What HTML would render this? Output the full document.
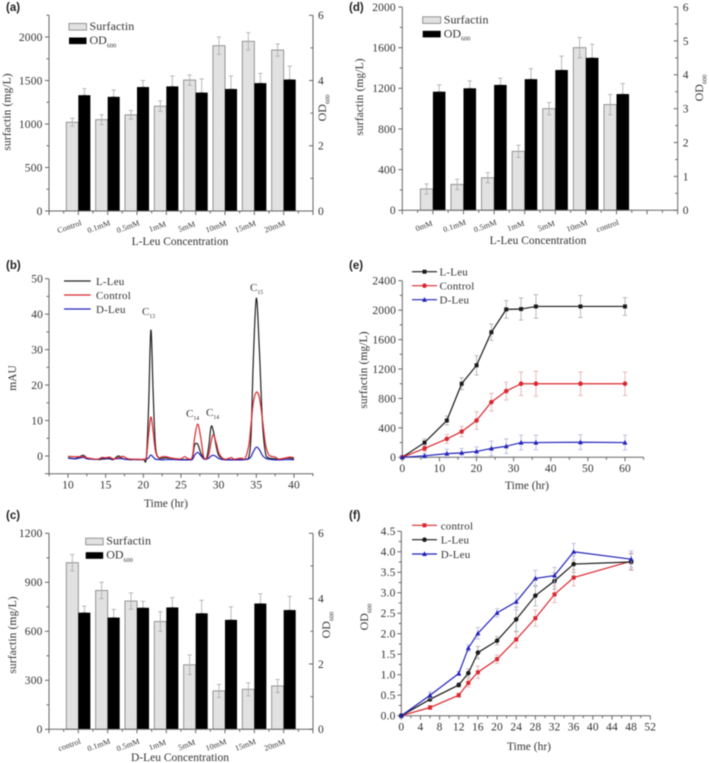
<!DOCTYPE html>
<html lang="en">
<head>
<meta charset="utf-8">
<title>Surfactin and OD600 panels</title>
<style>
html,body{margin:0;padding:0;background:#fff;width:709px;height:763px;overflow:hidden}
svg{display:block;filter:blur(.5px)}
text{font-family:"Liberation Serif",serif;fill:#333}
.panel-label{font-family:"Liberation Sans",sans-serif;font-weight:bold;font-size:11.5px;fill:#222}
</style>
</head>
<body>
<svg id="fig" xmlns="http://www.w3.org/2000/svg" width="709" height="763" viewBox="0 0 709 763">
  <defs>
    <pattern id="hatch" patternUnits="userSpaceOnUse" width="2.5" height="2.5">
      <rect width="2.5" height="2.5" fill="#eeeeee"/>
      <path d="M0 2.5L2.5 0" stroke="#cccccc" stroke-width=".7"/>
    </pattern>
  </defs>
  <rect width="709" height="763" fill="#fff"/>
</svg>
<script>
// Panel (a)
const aCategories = ['Control','0.1mM','0.5mM','1mM','5mM','10mM','15mM','20mM'];
const aSurfactin = [1020,1050,1105,1205,1505,1900,1950,1850];
const aSurfactinErr = [46,57,50,60,60,100,100,70];
const aOD = [3.55,3.5,3.8,3.82,3.63,3.74,3.92,4.03];
const aODErr = [0.2,0.21,0.2,0.32,0.42,0.4,0.3,0.41];
const aLeftTicks = [0,500,1000,1500,2000];
const aRightTicks = [0,2,4,6];

// Panel (d)
const dCategories = ['0mM','0.1mM','0.5mM','1mM','5mM','10mM','control'];
const dSurfactin = [210,255,320,580,1000,1600,1040];
const dSurfactinErr = [50,50,50,60,60,100,100];
const dOD = [3.5,3.6,3.7,3.87,4.14,4.5,3.43];
const dODErr = [0.2,0.22,0.2,0.31,0.41,0.4,0.31];
const dLeftTicks = [0,400,800,1200,1600,2000];
const dRightTicks = [0,1,2,3,4,5,6];

// Panel (c)
const cCategories = ['control','0.1mM','0.5mM','1mM','5mM','10mM','15mM','20mM'];
const cSurfactin = [1020,850,785,660,395,235,245,265];
const cSurfactinErr = [50,50,50,60,60,40,40,40];
const cOD = [3.57,3.42,3.72,3.73,3.55,3.35,3.85,3.65];
const cODErr = [0.2,0.25,0.2,0.3,0.4,0.4,0.3,0.42];
const cLeftTicks = [0,300,600,900,1200];
const cRightTicks = [0,2,4,6];

// Panel (b)
const bTimes = [10,11,12,12.5,13,14,14.5,15,15.5,16,16.7,17.3,18,19,20,20.4,20.7,21,21.3,21.6,22,22.5,23,24,25,25.5,26,26.5,26.8,27.2,27.6,28,28.4,28.7,29,29.3,29.7,30,30.5,31,31.7,32,33,33.5,34,34.3,34.6,35,35.4,35.8,36.2,36.6,37,37.5,38,39,39.5,40];
const bLLeu = [-.5,-.7,.2,-.6,-.8,-1,-.9,-.8,-.8,-1,0,-.8,-1,-1,-1,-.5,14,35.5,18,3,-.4,-.6,-.5,-.7,-1,-1,-1,-.6,3,3.4,1,-.5,-.6,3,8.3,7,2.5,.2,-.7,-1,-1,-1,-1,-.9,-.3,6,27,44.5,30,10,1,-.5,-.7,-.8,-.9,-.6,-.6,-.8];
const bControl = [-.1,-.2,-.2,-.5,-.7,-.9,-.4,-.5,-.3,-.8,-.5,-.1,-.8,-.9,-.9,-.3,6,11,7,1.5,-.5,-.2,-.2,-.7,-.8,-.2,-.8,-.3,5,9,5.5,-.2,-.7,.5,4,6,3.5,1,-.6,-.9,-.4,-.9,-.6,-.7,3,9,15,18,16.5,10.5,3.5,.5,-.1,-.3,-.9,-.5,-.3,-.5];
const bDLeu = [-.6,-.8,-.4,-.8,-.9,-.9,-.6,-.7,-.6,-.9,-.7,-.8,-1,-1,-1,-.9,-.5,.3,-.3,-.9,-1,-1.1,-1,-1,-1.1,-1.1,-1.1,-1,.2,1,.2,-.8,-.9,-.6,0,.2,-.2,-.7,-1,-1.1,-1.1,-1.1,-1.1,-1,-.8,-.2,1.2,2.5,1.8,.2,-.6,-.9,-1,-1.1,-1.1,-1,-1,-1.1];
const bXTicks = [10,15,20,25,30,35,40];
const bYTicks = [-5,0,10,20,30,40,50];
const bYLabels = [0,10,20,30,40,50];

// Panel (e)
const eTimes = [0,6,12,16,20,24,28,32,36,48,60];
const eLLeu = [0,200,500,1000,1250,1700,2010,2015,2050,2050,2050];
const eLLeuErr = [0,50,60,80,130,110,120,150,160,150,120];
const eControl = [0,120,250,350,500,750,900,1000,1000,1000,1000];
const eControlErr = [0,40,60,70,120,120,120,160,170,160,160];
const eDLeu = [0,20,50,60,80,120,150,200,200,205,200];
const eDLeuErr = [0,30,60,60,60,100,100,100,100,100,100];
const eXTicks = [0,10,20,30,40,50,60];
const eYTicks = [0,400,800,1200,1600,2000,2400];

// Panel (f)
const fTimes = [0,6,12,14,16,20,24,28,32,36,48];
const fControl = [0,.2,.5,.8,1.06,1.38,1.86,2.38,2.96,3.37,3.77];
const fControlErr = [0,.05,.05,.1,.15,.1,.2,.2,.2,.2,.2];
const fLLeu = [0,.4,.75,1.04,1.54,1.83,2.35,2.93,3.29,3.7,3.75];
const fLLeuErr = [0,.05,.05,.1,.15,.1,.3,.25,.2,.2,.2];
const fDLeu = [0,.5,1.03,1.65,2.01,2.51,2.78,3.35,3.42,4,3.82];
const fDLeuErr = [0,.08,.05,.08,.14,.1,.2,.2,.2,.2,.2];
const fXTicks = [0,4,8,12,16,20,24,28,32,36,40,44,48,52];
const fYTicks = [0,.5,1,1.5,2,2.5,3,3.5,4,4.5];

const NS = 'http://www.w3.org/2000/svg';
const fig = document.getElementById('fig');
const AXIS = '#666';
const RED = '#d9282f';
const BLUE = '#2222bb';
const BLACK = '#1a1a1a';

function mk(parent, tag, name, attrs) {
  const el = document.createElementNS(NS, tag);
  
  
  for (const k in attrs) el.setAttribute(k, attrs[k]);
  parent.appendChild(el);
  return el;
}
function linear(d0, d1, r0, r1) {
  return v => r0 + (v - d0) * (r1 - r0) / (d1 - d0);
}
function line(p, name, x1, y1, x2, y2, stroke, w) {
  return mk(p, 'line', name, {x1, y1, x2, y2, stroke: stroke || AXIS, 'stroke-width': w || 1});
}
function label(p, name, x, y, str, size, anchor, extra) {
  const t = mk(p, 'text', name, Object.assign({x, y, 'font-size': size, 'text-anchor': anchor || 'start'}, extra || {}));
  t.textContent = str;
  return t;
}
function subLabel(p, name, x, y, base, sub, size, anchor, transform) {
  const attrs = {x, y, 'font-size': size, 'text-anchor': anchor || 'start'};
  if (transform) attrs.transform = transform;
  const t = mk(p, 'text', name, attrs);
  t.appendChild(document.createTextNode(base));
  const s = document.createElementNS(NS, 'tspan');
  s.setAttribute('font-size', size * 0.52);
  s.setAttribute('dy', size * 0.28);
  s.textContent = sub;
  t.appendChild(s);
  return t;
}
function errorBar(p, name, x, yHi, yLo, color) {
  const g = mk(p, 'g', name, {stroke: color, 'stroke-width': .8, fill: 'none'});
  line(g, 'error-stem', x, yHi, x, yLo, color, .8);
  line(g, 'error-cap-top', x - 2.2, yHi, x + 2.2, yHi, color, .8);
  line(g, 'error-cap-bottom', x - 2.2, yLo, x + 2.2, yLo, color, .8);
}
function yAxis(p, name, x, top, bottom, scale, majors, minorStep, domainMax, labelVals, labelX, anchor, fmt) {
  const g = mk(p, 'g', name, {});
  line(g, 'axis-line', x, top, x, bottom);
  const lo = majors[0];
  for (let v = lo; v <= domainMax + 1e-9; v += minorStep) {
    const isMajor = majors.some(m => Math.abs(m - v) < 1e-6);
    line(g, isMajor ? 'major-tick' : 'minor-tick', x - (isMajor ? 4 : 2.5), scale(v), x, scale(v));
  }
  labelVals.forEach(m => {
    label(g, 'tick-label', labelX, scale(m) + 3.9, fmt ? fmt(m) : String(m), 11.5, anchor, {'letter-spacing': '.15'});
  });
  return g;
}

function barPanel(cfg) {
  const g = mk(fig, 'g', cfg.name, {});
  const x = linear(0, 9, cfg.left, cfg.right);
  const yL = linear(0, cfg.leftRef, cfg.bottom, cfg.leftRefY);
  const yR = linear(0, 6, cfg.bottom, cfg.rightTopY);
  const n = cfg.categories.length;
  const halfW = (x(1) - x(0)) * 0.41;
  for (let i = 0; i < n; i++) {
    const c = x(i + 1);
    const y1 = yL(cfg.surfactin[i]);
    mk(g, 'rect', 'surfactin-bar-' + cfg.categories[i], {x: c - halfW, y: y1, width: halfW, height: cfg.bottom - y1, fill: 'url(#hatch)', stroke: '#8a8a8a', 'stroke-width': .9});
    errorBar(g, 'surfactin-error', c - halfW / 2, yL(cfg.surfactin[i] + cfg.surfactinErr[i]), yL(cfg.surfactin[i] - cfg.surfactinErr[i]), '#aaa');
  }
  for (let i = 0; i < n; i++) {
    const c = x(i + 1);
    const y2 = yR(cfg.od[i]);
    errorBar(g, 'od-error', c + halfW / 2, yR(cfg.od[i] + cfg.odErr[i]), y2, '#aaa');
    mk(g, 'rect', 'od-bar-' + cfg.categories[i], {x: c, y: y2, width: halfW, height: cfg.bottom - y2, fill: '#000'});
  }
  yAxis(g, 'left-y-axis', cfg.left, cfg.top, cfg.bottom, yL, cfg.leftTicks, cfg.leftMinor, cfg.leftMax, cfg.leftTicks, cfg.left - 6.5, 'end');
  yAxis(g, 'right-y-axis', cfg.right, cfg.rightTopY, cfg.bottom, yR, cfg.rightTicks, cfg.rightMinor, 6, cfg.rightTicks, cfg.right + 5, 'start');
  const xg = mk(g, 'g', 'x-axis', {});
  line(xg, 'axis-line', cfg.left, cfg.bottom, cfg.right, cfg.bottom);
  for (let v = 0; v <= 9; v += .5) {
    const maj = Number.isInteger(v);
    line(xg, maj ? 'major-tick' : 'minor-tick', x(v), cfg.bottom, x(v), cfg.bottom + (maj ? 4 : 2.5));
  }
  cfg.categories.forEach((c, i) => {
    const cx = x(i + 1) - 8, cy = cfg.bottom + 18;
    label(xg, 'category-label', cx, cy, c, 8, 'middle', {transform: 'rotate(-20 ' + cx + ' ' + cy + ')', 'letter-spacing': '.1'});
  });
  label(g, 'x-axis-title', cfg.xTitleX, cfg.xTitleY, cfg.xTitle, 11.5, 'middle');
  const yt = 'rotate(-90 ' + cfg.yTitleX + ' ' + cfg.yTitleY + ')';
  label(g, 'y-axis-title', cfg.yTitleX, cfg.yTitleY, 'surfactin (mg/L)', 11.5, 'middle', {transform: yt, 'letter-spacing': '.1'});
  const rt = 'rotate(-90 ' + cfg.rTitleX + ' ' + cfg.rTitleY + ')';
  subLabel(g, 'right-y-axis-title', cfg.rTitleX, cfg.rTitleY, 'OD', '600', 12, 'middle', rt);
  const lg = mk(g, 'g', 'legend', {});
  mk(lg, 'rect', 'legend-swatch-surfactin', {x: cfg.legX, y: cfg.legY, width: cfg.legW, height: 6.6, fill: 'url(#hatch)', stroke: '#8a8a8a', 'stroke-width': .9});
  label(lg, 'legend-label-surfactin', cfg.legX + cfg.legW + 3, cfg.legY + 6.5, 'Surfactin', 12, 'start', {'letter-spacing': '.1'});
  mk(lg, 'rect', 'legend-swatch-od', {x: cfg.legX, y: cfg.legY + 14, width: cfg.legW, height: 6.6, fill: '#000'});
  subLabel(lg, 'legend-label-od', cfg.legX + cfg.legW + 3, cfg.legY + 20.5, 'OD', '600', 12);
}

barPanel({name: 'panel-a', left: 49, right: 313, top: 15, bottom: 211, leftRef: 2000, leftRefY: 37, rightTopY: 15.3,
  categories: aCategories, surfactin: aSurfactin, surfactinErr: aSurfactinErr, od: aOD, odErr: aODErr,
  leftTicks: aLeftTicks, leftMinor: 250, leftMax: 2250, rightTicks: aRightTicks, rightMinor: 1,
  xTitle: 'L-Leu Concentration', xTitleX: 180, xTitleY: 245, yTitleX: 10.5, yTitleY: 112, rTitleX: 326, rTitleY: 108,
  legX: 69, legY: 23.5, legW: 17.5});
barPanel({name: 'panel-d', left: 402.3, right: 677.7, top: 7, bottom: 210.3, leftRef: 2000, leftRefY: 7, rightTopY: 7,
  categories: dCategories, surfactin: dSurfactin, surfactinErr: dSurfactinErr, od: dOD, odErr: dODErr,
  leftTicks: dLeftTicks, leftMinor: 200, leftMax: 2000, rightTicks: dRightTicks, rightMinor: .5,
  xTitle: 'L-Leu Concentration', xTitleX: 538, xTitleY: 244, yTitleX: 363, yTitleY: 97, rTitleX: 703, rTitleY: 88,
  legX: 422.7, legY: 16.8, legW: 18});
barPanel({name: 'panel-c', left: 49, right: 313, top: 533.3, bottom: 729.3, leftRef: 1200, leftRefY: 533.3, rightTopY: 533.3,
  categories: cCategories, surfactin: cSurfactin, surfactinErr: cSurfactinErr, od: cOD, odErr: cODErr,
  leftTicks: cLeftTicks, leftMinor: 150, leftMax: 1200, rightTicks: cRightTicks, rightMinor: 1,
  xTitle: 'D-Leu Concentration', xTitleX: 180, xTitleY: 761, yTitleX: 16, yTitleY: 635, rTitleX: 330, rTitleY: 625,
  legX: 85.7, legY: 538.2, legW: 17.5});

function xAxis(p, left, right, y0, scale, majors, minorStep, maxV, minV, baseOff) {
  const g = mk(p, 'g', 'x-axis', {});
  line(g, 'axis-line', left, y0, right, y0);
  for (let v = minV; v <= maxV + 1e-9; v += minorStep) {
    const maj = majors.some(m => Math.abs(m - v) < 1e-6);
    line(g, maj ? 'major-tick' : 'minor-tick', scale(v), y0, scale(v), y0 + (maj ? 4 : 2.5));
  }
  majors.forEach(m => label(g, 'tick-label', scale(m), y0 + baseOff, String(m), 11.5, 'middle', {'letter-spacing': '.15'}));
}
function smoothPath(pts) {
  let d = 'M' + pts[0][0].toFixed(2) + ' ' + pts[0][1].toFixed(2);
  for (let i = 0; i < pts.length - 1; i++) {
    const p0 = pts[Math.max(0, i - 1)], p1 = pts[i], p2 = pts[i + 1], p3 = pts[Math.min(pts.length - 1, i + 2)];
    const c1x = p1[0] + (p2[0] - p0[0]) / 6, c1y = p1[1] + (p2[1] - p0[1]) / 6;
    const c2x = p2[0] - (p3[0] - p1[0]) / 6, c2y = p2[1] - (p3[1] - p1[1]) / 6;
    d += 'C' + c1x.toFixed(2) + ' ' + c1y.toFixed(2) + ' ' + c2x.toFixed(2) + ' ' + c2y.toFixed(2) + ' ' + p2[0].toFixed(2) + ' ' + p2[1].toFixed(2);
  }
  return d;
}

// Panel (b)
(function () {
  const g = mk(fig, 'g', 'panel-b', {});
  const x = linear(10, 40, 68, 294);
  const y = linear(0, 50, 456, 278.7);
  yAxis(g, 'y-axis', 49, 278.7, y(-5), y, bYTicks, 5, 50, bYLabels, 43, 'end');
  xAxis(g, 49, 313.3, y(-5), x, bXTicks, 2.5, 42.5, 7.5, 15);
  [['l-leu', bLLeu, '#222'], ['d-leu', bDLeu, BLUE], ['control', bControl, RED]].forEach(s => {
    const pts = bTimes.map((t, i) => [x(t), y(s[1][i])]);
    mk(g, 'path', 'chromatogram-' + s[0], {d: smoothPath(pts), fill: 'none', stroke: s[2], 'stroke-width': 1.2});
  });
  label(g, 'x-axis-title', 166, 507, 'Time (hr)', 11.5, 'middle');
  label(g, 'y-axis-title', 16, 378, 'mAU', 11.5, 'middle', {transform: 'rotate(-90 16 378)'});
  subLabel(g, 'peak-label-c13', 142, 315, 'C', '13', 11);
  subLabel(g, 'peak-label-c14-first', 186, 417, 'C', '14', 11);
  subLabel(g, 'peak-label-c14-second', 206, 416, 'C', '14', 11);
  subLabel(g, 'peak-label-c15', 250, 291, 'C', '15', 11);
  const lg = mk(g, 'g', 'legend', {});
  [['L-Leu', '#222', 281], ['Control', RED, 295], ['D-Leu', BLUE, 309]].forEach(e => {
    line(lg, 'legend-line-' + e[0], 64, e[2], 90.7, e[2], e[1], 1.2);
    label(lg, 'legend-label-' + e[0], 96, e[2] + 4, e[0], 11, 'start', {'letter-spacing': '.2'});
  });
})();

function marker(p, name, kind, cx, cy, color, r) {
  if (kind === 'square') return mk(p, 'rect', name, {x: cx - r, y: cy - r, width: 2 * r, height: 2 * r, fill: color});
  if (kind === 'circle') return mk(p, 'circle', name, {cx, cy, r: r + .3, fill: color});
  return mk(p, 'polygon', name, {points: [cx, cy - r - .7, cx + r + .5, cy + r, cx - r - .5, cy + r].join(','), fill: color});
}
function seriesDraw(g, key, times, vals, errs, x, y, color, errColor, kind) {
  const s = mk(g, 'g', 'series-' + key, {});
  times.forEach((t, i) => {
    if (errs[i] > 0) errorBar(s, 'error-bar', x(t), y(vals[i] + errs[i]), y(vals[i] - errs[i]), errColor);
  });
  mk(s, 'polyline', 'line-' + key, {points: times.map((t, i) => x(t).toFixed(2) + ',' + y(vals[i]).toFixed(2)).join(' '), fill: 'none', stroke: color, 'stroke-width': 1.2});
  times.forEach((t, i) => marker(s, 'point-' + key, kind, x(t), y(vals[i]), color, 2));
}
function legendRow(lg, key, text, x1, x2, tx, yy, color, kind) {
  line(lg, 'legend-line-' + key, x1, yy, x2, yy, color, 1.2);
  marker(lg, 'legend-marker-' + key, kind, (x1 + x2) / 2, yy, color, 2);
  label(lg, 'legend-label-' + key, tx, yy + 4, text, 11, 'start', {'letter-spacing': '.2'});
}

// Panel (e)
(function () {
  const g = mk(fig, 'g', 'panel-e', {});
  const x = linear(0, 60, 402.3, 625);
  const y = linear(0, 2400, 457.3, 280.7);
  yAxis(g, 'y-axis', 402.3, 280.7, 457.3, y, eYTicks, 200, 2400, eYTicks, 396, 'end');
  xAxis(g, 402.3, 643.7, 457.3, x, eXTicks, 5, 65, 0, 14.5);
  seriesDraw(g, 'l-leu', eTimes, eLLeu, eLLeuErr, x, y, BLACK, '#aaa', 'square');
  seriesDraw(g, 'control', eTimes, eControl, eControlErr, x, y, RED, '#e4a9ab', 'circle');
  seriesDraw(g, 'd-leu', eTimes, eDLeu, eDLeuErr, x, y, BLUE, '#b4b4dd', 'triangle');
  label(g, 'x-axis-title', 527, 489, 'Time (hr)', 11.5, 'middle');
  label(g, 'y-axis-title', 367, 370, 'surfactin (mg/L)', 11.5, 'middle', {transform: 'rotate(-90 367 370)', 'letter-spacing': '.1'});
  const lg = mk(g, 'g', 'legend', {});
  legendRow(lg, 'l-leu', 'L-Leu', 412, 437, 439.5, 271.7, BLACK, 'square');
  legendRow(lg, 'control', 'Control', 412, 437, 439.5, 285.7, RED, 'circle');
  legendRow(lg, 'd-leu', 'D-Leu', 412, 437, 439.5, 299.7, BLUE, 'triangle');
})();

// Panel (f)
(function () {
  const g = mk(fig, 'g', 'panel-f', {});
  const x = linear(0, 52, 401.3, 650.3);
  const y = linear(0, 4.5, 715.7, 531.3);
  yAxis(g, 'y-axis', 401.3, 531.3, 715.7, y, fYTicks, .25, 4.5, fYTicks, 395.5, 'end', v => v.toFixed(1));
  xAxis(g, 401.3, 650.3, 715.7, x, fXTicks, 2, 52, 0, 15);
  seriesDraw(g, 'control', fTimes, fControl, fControlErr, x, y, RED, '#e4a9ab', 'square');
  seriesDraw(g, 'l-leu', fTimes, fLLeu, fLLeuErr, x, y, BLACK, '#aaa', 'circle');
  seriesDraw(g, 'd-leu', fTimes, fDLeu, fDLeuErr, x, y, BLUE, '#b4b4dd', 'triangle');
  label(g, 'x-axis-title', 529, 750, 'Time (hr)', 11.5, 'middle');
  subLabel(g, 'y-axis-title', 368, 617, 'OD', '600', 12, 'middle', 'rotate(-90 368 617)');
  const lg = mk(g, 'g', 'legend', {});
  legendRow(lg, 'control', 'control', 412, 437, 440.7, 525.3, RED, 'square');
  legendRow(lg, 'l-leu', 'L-Leu', 412, 437, 440.7, 539.7, BLACK, 'circle');
  legendRow(lg, 'd-leu', 'D-Leu', 412, 437, 440.7, 554, BLUE, 'triangle');
})();

[['a', 6, 11], ['d', 349, 11], ['b', 6, 269], ['e', 349, 269], ['c', 6, 519], ['f', 349, 519]].forEach(p => {
  const t = label(fig, 'panel-label-' + p[0], p[1], p[2], '(' + p[0] + ')', 11.5);
  t.setAttribute('class', 'panel-label');
});
</script>
</body>
</html>
